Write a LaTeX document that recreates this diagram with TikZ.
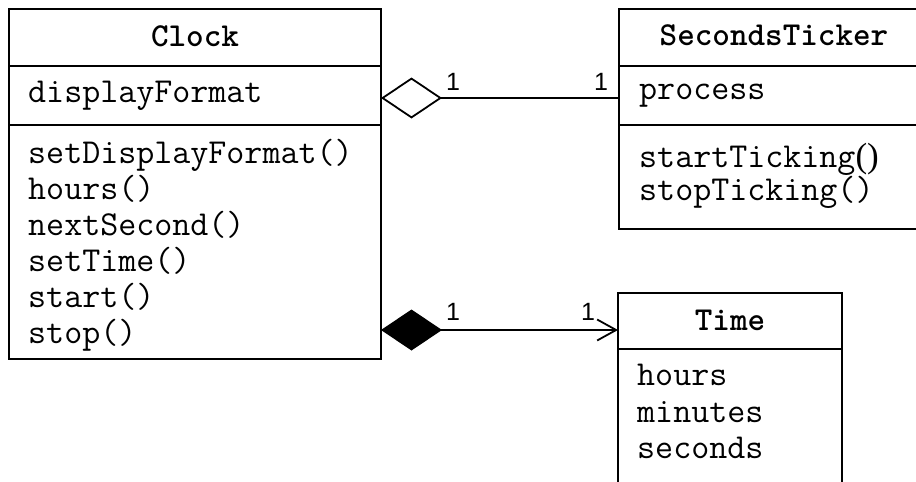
\documentclass[tikz,border=0pt]{standalone}
\usepackage{fontspec}
\setmainfont{Liberation Serif}
\setmonofont{Latin Modern Mono}
\newfontfamily\headfont{Latin Modern Mono Light}
\newfontfamily\multfont{Liberation Sans}
\usetikzlibrary{arrows.meta}
\begin{document}
\begin{tikzpicture}[x=1pt,y=-1pt,
  umlbox/.style={draw, line width=1.8pt, rectangle, inner sep=0pt, outer sep=0pt, anchor=north west},
  member/.style={font=\fontsize{35}{36}\selectfont\ttfamily, anchor=base west, inner sep=0pt},
  classname/.style={font=\fontsize{33.5}{36}\selectfont\headfont\bfseries, anchor=base, inner sep=0pt},
  mult/.style={font=\fontsize{25}{30}\selectfont\multfont, anchor=base west, inner sep=0pt},
  link/.style={line width=1.8pt}]
\path[clip] (0,0) rectangle (916,482);
\fill[white] (0,0) rectangle (916,482);

% Clock class
\node[umlbox, minimum width=372pt, minimum height=57pt]  (clockHead) at (9,9)   {};
\node[umlbox, minimum width=372pt, minimum height=59pt]  (clockAttr) at (9,66)  {};
\node[umlbox, minimum width=372pt, minimum height=234pt] (clockMeth) at (9,125) {};
\node[classname] (clockName) at (195,46) {Clock};
\node[member] (cA1) at (28,102) {displayFormat};
\node[member] (cM1) at (28,163) {setDisplayFormat()};
\node[member] (cM2) at (28,199) {hours()};
\node[member] (cM3) at (28,235) {nextSecond()};
\node[member] (cM4) at (28,271) {setTime()};
\node[member] (cM5) at (28,307) {start()};
\node[member] (cM6) at (28,343) {stop()};

% SecondsTicker class
\node[umlbox, minimum width=311pt, minimum height=57pt]  (tickHead) at (619,9)   {};
\node[umlbox, minimum width=311pt, minimum height=59pt]  (tickAttr) at (619,66)  {};
\node[umlbox, minimum width=311pt, minimum height=104pt] (tickMeth) at (619,125) {};
\node[classname] (tickName) at (774,45) {SecondsTicker};
\node[member] (tA1) at (639,99)  {process};
\node[member] (tM1) at (639,167) {startTicking{\rmfamily()}};
\node[member] (tM2) at (639,200) {stopTicking()};

% Time class
\node[umlbox, minimum width=224pt, minimum height=56pt]  (timeHead) at (618,293) {};
\node[umlbox, minimum width=224pt, minimum height=170pt] (timeAttr) at (618,349) {};
\node[classname] (timeName) at (730,330) {Time};
\node[member] (mA1) at (637,385) {hours};
\node[member] (mA2) at (637,422) {minutes};
\node[member] (mA3) at (637,458) {seconds};

% Aggregation: Clock <>--- SecondsTicker
\draw[link, {Diamond[open,length=61pt,width=41pt]}-]
  (clockAttr.east |- 0,98) -- (tickAttr.west |- 0,98);
\node[mult] (m1) at (446,90) {1};
\node[mult] (m2) at (594,90) {1};

% Composition: Clock <#>---> Time
\draw[link, {Diamond[length=61pt,width=41pt]}-{Straight Barb[length=19pt,width=21pt]}]
  (clockMeth.east |- 0,330) -- (timeHead.west |- 0,330);
\node[mult] (m3) at (446,320) {1};
\node[mult] (m4) at (581,320) {1};
\end{tikzpicture}
\end{document}
